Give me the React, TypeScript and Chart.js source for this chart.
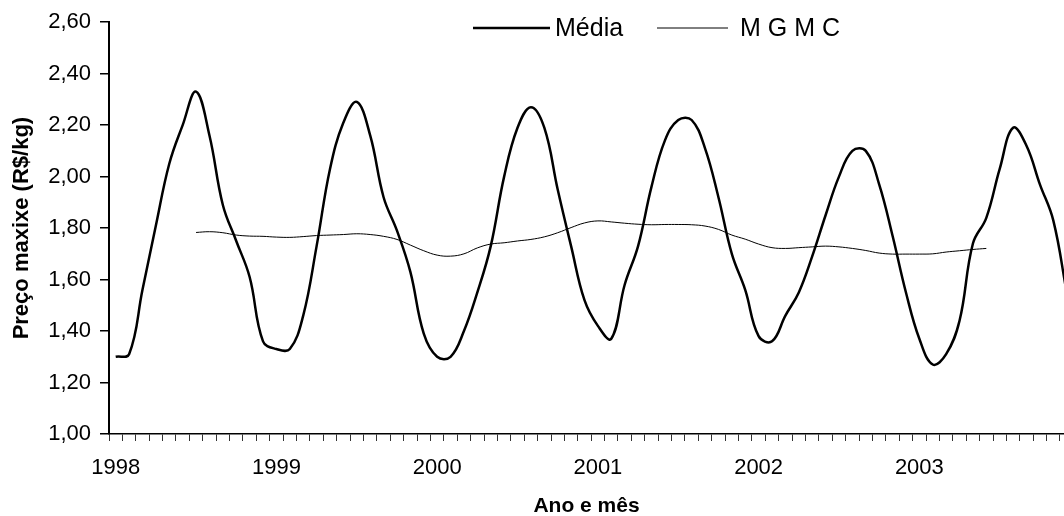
import React, { useEffect, useRef } from 'react';
import { Chart, registerables } from 'chart.js';

Chart.register(...registerables);

const FONT = 'Arial, "Liberation Sans", sans-serif';

// Categories: months from Jan 1998 to Dec 2003
const years = ['1998', '1999', '2000', '2001', '2002', '2003'];
const monthNames = ['01', '02', '03', '04', '05', '06', '07', '08', '09', '10', '11', '12'];
const months = years.flatMap((y) => monthNames.map((m) => `${y}-${m}`));

// Série "Média" (R$/kg)
const mediaValues = [
  1.30, 1.31, 1.56, 1.81, 2.05, 2.20, 2.33, 2.16, 1.89, 1.75, 1.61, 1.36,
  1.33, 1.33, 1.46, 1.73, 2.03, 2.21, 2.29, 2.16, 1.92, 1.79, 1.63, 1.39,
  1.30, 1.30, 1.40, 1.55, 1.73, 2.00, 2.19, 2.27, 2.19, 1.95, 1.73, 1.52,
  1.42, 1.37, 1.58, 1.73, 1.96, 2.14, 2.22, 2.22, 2.11, 1.92, 1.70, 1.56,
  1.38, 1.36, 1.46, 1.55, 1.69, 1.85, 2.00, 2.10, 2.10, 1.97, 1.77, 1.55,
  1.37, 1.27, 1.31, 1.44, 1.74, 1.84, 2.03, 2.19, 2.12, 1.97, 1.83, 1.55,
];

// Série "M G M C" (média geométrica móvel centrada)
const mgmcValues: (number | null)[] = [
  null, null, null, null, null, null, 1.783, 1.786, 1.782, 1.773, 1.769, 1.768,
  1.765, 1.764, 1.767, 1.771, 1.773, 1.775, 1.778, 1.775, 1.768, 1.756, 1.734, 1.712,
  1.695, 1.691, 1.700, 1.723, 1.738, 1.743, 1.750, 1.756, 1.766, 1.782, 1.802, 1.820,
  1.828, 1.824, 1.819, 1.815, 1.813, 1.814, 1.814, 1.813, 1.808, 1.795, 1.773, 1.757,
  1.738, 1.724, 1.721, 1.724, 1.727, 1.730, 1.727, 1.721, 1.713, 1.703, 1.699, 1.699,
  1.699, 1.700, 1.707, 1.712, 1.717, 1.721, null, null, null, null, null, null,
];

const yMin = 1.0;
const yMax = 2.6;
const yStep = 0.2;
const xMax = 71.3;

const seriesNames = ['Média', 'M G M C'];

const toPoints = (vals: (number | null)[]) =>
  vals.map((v, i) => ({ x: i + 0.5, y: v, label: months[i] }));

const legendPlugin = {
  id: 'insideLegend',
  afterDraw(chart: any) {
    const ctx = chart.ctx;
    const items = [
      { x1: 473, x2: 550, tx: 555 },
      { x1: 657, x2: 728, tx: 740 },
    ];
    ctx.save();
    ctx.font = `25px ${FONT}`;
    ctx.fillStyle = '#000';
    ctx.textBaseline = 'alphabetic';
    ctx.textAlign = 'left';
    chart.data.datasets.forEach((ds: any, i: number) => {
      const it = items[i];
      ctx.beginPath();
      ctx.strokeStyle = ds.borderColor;
      ctx.lineWidth = ds.borderWidth;
      ctx.moveTo(it.x1, 28);
      ctx.lineTo(it.x2, 28);
      ctx.stroke();
      ctx.fillText(ds.label, it.tx, 36);
    });
    ctx.restore();
  },
};

export default function App() {
  const canvasRef = useRef<HTMLCanvasElement | null>(null);

  useEffect(() => {
    if (!canvasRef.current) return;
    const chart = new Chart(canvasRef.current, {
      type: 'line',
      data: {
        datasets: [
          {
            label: seriesNames[0],
            data: toPoints(mediaValues) as any,
            borderColor: '#000',
            borderWidth: 2.5,
            pointRadius: 0,
            tension: 0.4,
            fill: false,
          },
          {
            label: seriesNames[1],
            data: toPoints(mgmcValues) as any,
            borderColor: '#000',
            borderWidth: 1,
            pointRadius: 0,
            tension: 0.4,
            fill: false,
            spanGaps: false,
          },
        ],
      },
      options: {
        animation: false,
        responsive: true,
        maintainAspectRatio: false,
        layout: { padding: { top: 22, right: 0, left: 0, bottom: 0 } },
        plugins: {
          legend: { display: false },
          tooltip: { enabled: false },
        },
        scales: {
          x: {
            type: 'linear',
            min: 0,
            max: xMax,
            afterFit: (scale: any) => {
              scale.height = 82;
              scale.paddingRight = 0;
              scale.paddingLeft = 0;
            },
            border: { display: true, color: '#000', width: 1.5 },
            grid: {
              drawOnChartArea: false,
              drawTicks: true,
              tickLength: 7,
              tickColor: '#333',
              lineWidth: 1,
            },
            ticks: {
              stepSize: 1,
              autoSkip: false,
              includeBounds: false,
              maxRotation: 0,
              minRotation: 0,
              labelOffset: 6.7,
              padding: 14,
              color: '#000',
              font: { family: FONT, size: 22 },
              callback: (v: any) => {
                const n = Number(v);
                return n % 12 === 0 ? years[n / 12] ?? '' : '';
              },
            },
            title: {
              display: true,
              text: 'Ano e mês',
              color: '#000',
              font: { family: FONT, size: 21, weight: 'bold' },
              padding: { top: 0, bottom: -3 },
            },
          },
          y: {
            min: yMin,
            max: yMax,
            afterFit: (scale: any) => {
              scale.width = 109;
            },
            border: { display: true, color: '#000', width: 2 },
            grid: {
              drawOnChartArea: false,
              drawTicks: true,
              tickLength: 9,
              tickColor: '#000',
              lineWidth: 1.5,
            },
            ticks: {
              stepSize: yStep,
              padding: 9,
              color: '#000',
              font: { family: FONT, size: 22 },
              callback: (v: any) => Number(v).toFixed(2).replace('.', ','),
            },
            title: {
              display: true,
              text: 'Preço maxixe (R$/kg)',
              color: '#000',
              font: { family: FONT, size: 22, weight: 'bold' },
              padding: { top: 9, bottom: 0 },
            },
          },
        },
      },
      plugins: [legendPlugin],
    });
    return () => chart.destroy();
  }, []);

  return (
    <div style={{ position: 'absolute', left: 0, top: 0, width: 1064, height: 516, background: '#fff' }}>
      <canvas ref={canvasRef} />
    </div>
  );
}
